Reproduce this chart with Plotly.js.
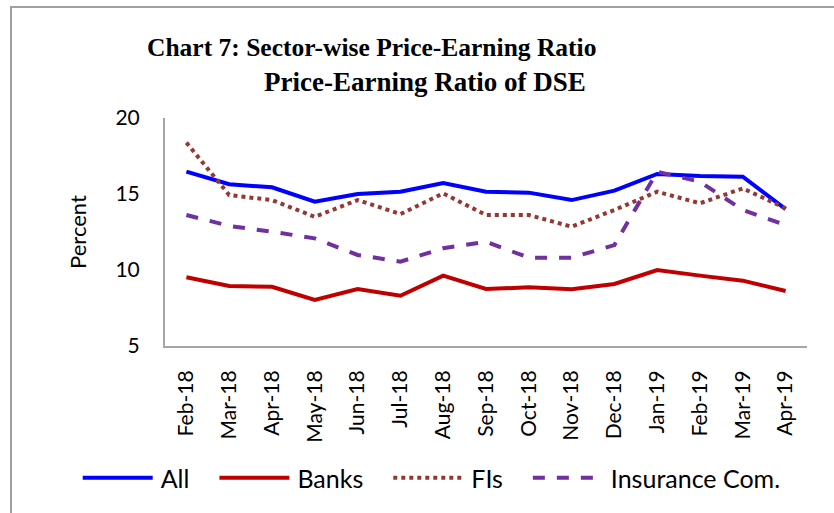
<!DOCTYPE html>
<html>
<head>
<meta charset="utf-8">
<script src="https://cdn.plot.ly/plotly-3.0.1.min.js"></script>
<style>
html,body{margin:0;padding:0;background:#fff;overflow:hidden;}
#chart{width:834px;height:513px;position:relative;}
#frame{position:absolute;left:10px;top:6px;width:900px;height:600px;border-left:2px solid #a0a0a0;border-top:2px solid #a0a0a0;pointer-events:none;}
</style>
</head>
<body>
<div id="chart"></div>
<div id="frame"></div>
<script>
const months = ["Feb-18","Mar-18","Apr-18","May-18","Jun-18","Jul-18","Aug-18","Sep-18","Oct-18","Nov-18","Dec-18","Jan-19","Feb-19","Mar-19","Apr-19"];
const allSeries = [16.47,15.64,15.44,14.50,15.00,15.15,15.72,15.15,15.09,14.60,15.22,16.32,16.18,16.14,14.00];
const banks = [9.52,8.95,8.90,8.03,8.75,8.31,9.63,8.75,8.86,8.73,9.08,10.00,9.63,9.30,8.62];
const fis = [18.38,14.93,14.60,13.50,14.60,13.68,15.04,13.62,13.62,12.85,13.95,15.15,14.39,15.37,14.06];
const insurance = [13.62,12.90,12.52,12.08,10.99,10.55,11.43,11.86,10.81,10.81,11.64,16.47,15.80,13.95,12.96];

const sansFamily = "Lato, Open Sans, sans-serif";
const tickFont = {family: sansFamily, size: 21, color: "#000"};

const traces = [
  {x: months, y: allSeries, name: "All", type: "scatter", mode: "lines",
   line: {color: "#0000FF", width: 4}},
  {x: months, y: banks, name: "Banks", type: "scatter", mode: "lines",
   line: {color: "#C00000", width: 4}},
  {x: months, y: fis, name: "FIs", type: "scatter", mode: "lines",
   line: {color: "#953735", width: 4, dash: "dot"}},
  {x: months, y: insurance, name: "Insurance Com.", type: "scatter", mode: "lines",
   line: {color: "#7030A0", width: 4, dash: "dash"}}
];

const layout = {
  width: 834, height: 513,
  paper_bgcolor: "#fff", plot_bgcolor: "#fff",
  margin: {l: 165, r: 27, t: 118, b: 167},
  showlegend: true,
  legend: {orientation: "h", x: -0.15, xanchor: "left", y: -0.579, yanchor: "middle",
           font: {family: sansFamily, size: 25, color: "#000"},
           itemwidth: 85, tracegroupgap: 0, bgcolor: "rgba(0,0,0,0)"},
  xaxis: {type: "category", range: [-0.5, 14.5], tickangle: -90, tickfont: tickFont, showgrid: false,
          showline: true, linecolor: "#a6a6a6", linewidth: 2, ticks: "", zeroline: false,
          ticklabelstandoff: 14, automargin: false},
  yaxis: {range: [5, 20], dtick: 5, tickfont: tickFont, showgrid: false,
          showline: true, linecolor: "#a6a6a6", linewidth: 2, ticks: "", zeroline: false,
          ticklabelstandoff: 19,
          title: {text: "Percent", font: {family: sansFamily, size: 22, color: "#000"}, standoff: 23},
          automargin: false},
  annotations: [
    {text: "<b>Chart 7: Sector-wise Price-Earning Ratio</b>", xref: "paper", yref: "paper",
     x: (371 - 165) / 642, y: 1, yshift: 71, xanchor: "center", yanchor: "middle", showarrow: false,
     font: {family: "Liberation Serif, serif", size: 25.5, color: "#000"}},
    {text: "<b>Price-Earning Ratio of DSE</b>", xref: "paper", yref: "paper",
     x: (425 - 165) / 642, y: 1, yshift: 36, xanchor: "center", yanchor: "middle", showarrow: false,
     font: {family: "Liberation Serif, serif", size: 27, color: "#000"}}
  ]
};

Plotly.newPlot("chart", traces, layout, {displayModeBar: false, staticPlot: true}).then(function(gd){
  // Longer legend swatches and reference-like spacing between legend entries
  const lineStart = 14, lineLen = 70, textOffset = 78, entryGap = 30;
  const legend = gd.querySelector(".legend");
  if (legend) {
    legend.querySelectorAll("[clip-path]").forEach(function(el){ el.removeAttribute("clip-path"); });
  }
  const items = Array.from(gd.querySelectorAll(".legend .traces"));
  let curX = null, curY = 0;
  items.forEach(function(item){
    const tr = item.getAttribute("transform") || "";
    const m = tr.match(/translate\(\s*([-\d.]+)[ ,]+([-\d.]+)\s*\)/);
    if (curX === null && m) { curX = parseFloat(m[1]); }
    if (m) { curY = parseFloat(m[2]); }
    item.querySelectorAll(".legendlines path").forEach(function(p){
      p.setAttribute("d", "M" + lineStart + ",0h" + lineLen);
    });
    const txt = item.querySelector("text.legendtext");
    if (txt) { txt.setAttribute("x", lineStart + textOffset); }
    item.setAttribute("transform", "translate(" + curX + "," + curY + ")");
    const w = txt ? txt.getComputedTextLength() : 0;
    curX = curX + textOffset + w + entryGap;
  });
});
</script>
</body>
</html>
